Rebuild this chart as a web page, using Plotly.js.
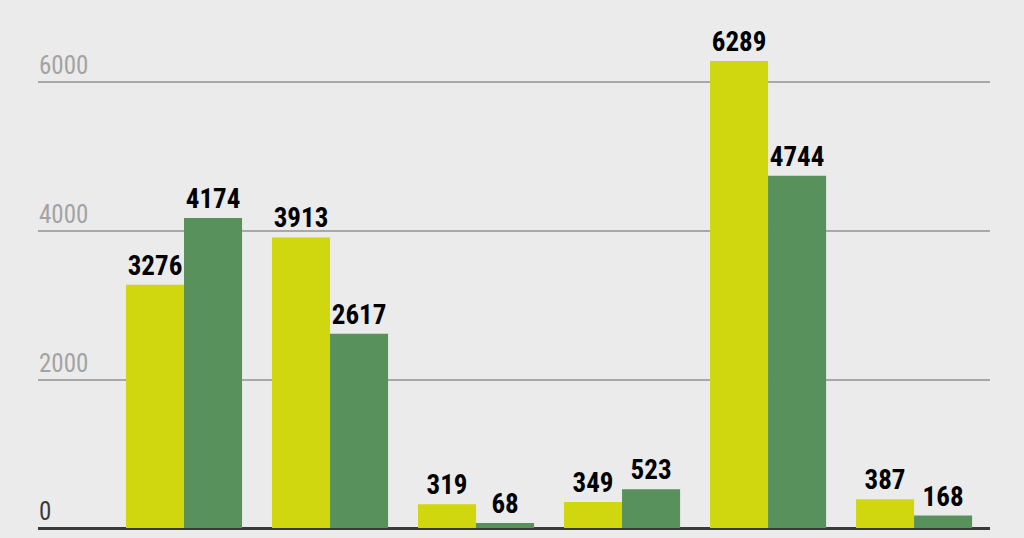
<!DOCTYPE html>
<html>
<head>
<meta charset="utf-8">
<script src="https://cdn.plot.ly/plotly-3.0.1.min.js"></script>
<style>
html,body{margin:0;padding:0;background:#ebebeb;}
#chart{width:1024px;height:538px;}
</style>
</head>
<body>
<div id="chart"></div>
<script>
var categories = ["A", "B", "C", "D", "E", "F"];
var seriesA = [3276, 3913, 319, 349, 6289, 387];
var seriesB = [4174, 2617, 68, 523, 4744, 168];
var tickValues = [0, 2000, 4000, 6000];
var tickLabels = ["0", "2000", "4000", "6000"];

var xIdx = categories.map(function(_, i){ return i; });
var labelFont = {family: "'Liberation Sans Narrow', 'Roboto Condensed', 'DejaVu Sans Condensed', sans-serif", size: 27, color: "#000000", weight: 700};

var traces = [
  {type: "bar", x: xIdx, y: seriesA, marker: {color: "#d0d70f"},
   text: seriesA.map(String), textposition: "outside", cliponaxis: false,
   textfont: labelFont, hoverinfo: "none"},
  {type: "bar", x: xIdx, y: seriesB, marker: {color: "#58915c"},
   text: seriesB.map(String), textposition: "outside", cliponaxis: false,
   textfont: labelFont, hoverinfo: "none"}
];

var annotations = tickValues.map(function(v, i){
  return {xref: "paper", yref: "y", x: 0, y: v, xanchor: "left", yanchor: "bottom",
    text: tickLabels[i], showarrow: false, xshift: -1,
    font: {family: "'Liberation Sans Narrow', 'Roboto Condensed', 'DejaVu Sans Condensed', sans-serif", size: 25,
      color: v === 0 ? "#3a3a3a" : "#a3a3a3"}};
});

var layout = {
  width: 1024, height: 538,
  paper_bgcolor: "#ebebeb", plot_bgcolor: "#ebebeb",
  margin: {l: 38, r: 34, t: 0, b: 10},
  barmode: "group", bargap: 0.205, bargroupgap: 0,
  showlegend: false,
  uniformtext: {mode: false},
  xaxis: {range: [-1, 5.52], showticklabels: false, showgrid: false, zeroline: false, ticks: "", fixedrange: true},
  yaxis: {range: [0, 7111], tickvals: tickValues, showticklabels: false, showgrid: true,
    gridcolor: "#a8a8a8", gridwidth: 2, zeroline: true, zerolinecolor: "#3a3a3a", zerolinewidth: 3,
    ticks: "", fixedrange: true, layer: "below traces"},
  annotations: annotations
};

Plotly.newPlot("chart", traces, layout, {displayModeBar: false, staticPlot: true});
</script>
</body>
</html>
